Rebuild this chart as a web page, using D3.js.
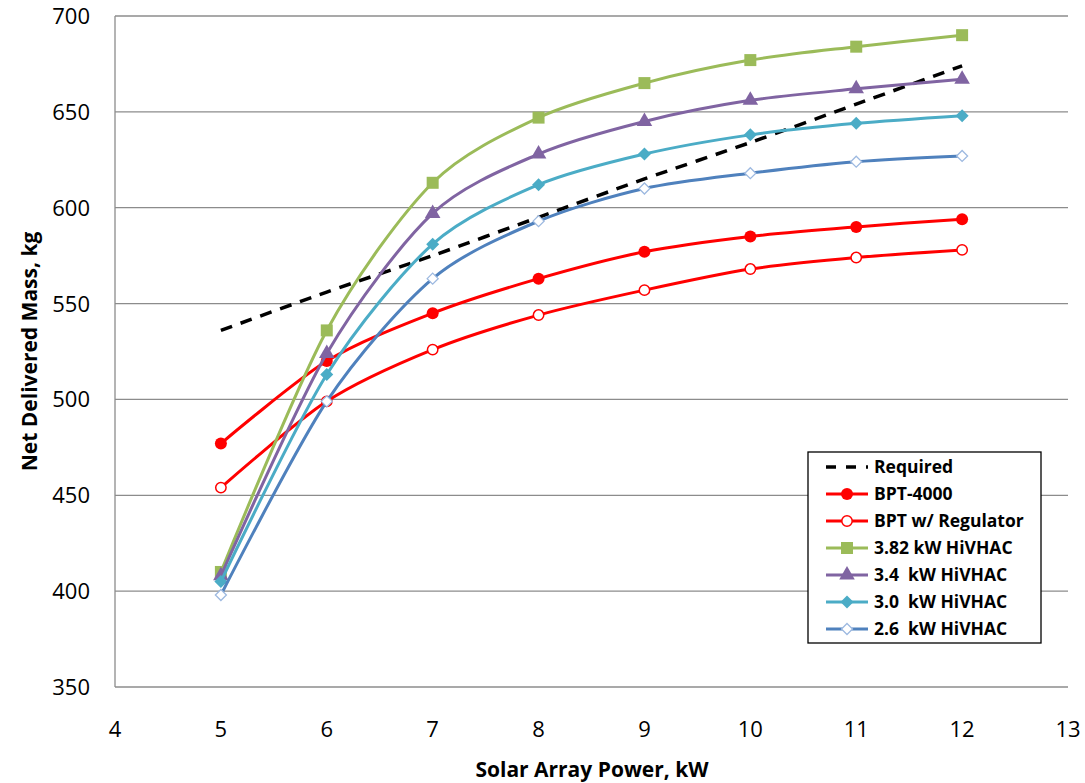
<!DOCTYPE html>
<html>
<head>
<meta charset="utf-8">
<script src="https://cdn.jsdelivr.net/npm/d3@7"></script>
<style>
  body { margin: 0; background: #fff; }
  text { font-family: 'Open Sans', Lato, sans-serif; }
</style>
</head>
<body>
<div id="chart"></div>
<script>
// data
let powers = [5, 6, 7, 8, 9, 10, 11, 12]
let required = [536, 556, 575, 595, 615, 634, 654, 674]
let bpt4000 = [477, 520, 545, 563, 577, 585, 590, 594]
let bptReg = [454, 499, 526, 544, 557, 568, 574, 578]
let hiv382 = [410, 536, 613, 647, 665, 677, 684, 690]
let hiv34 = [408, 524, 597, 628, 645, 656, 662, 667]
let hiv30 = [405, 513, 581, 612, 628, 638, 644, 648]
let hiv26 = [398, 499, 563, 593, 610, 618, 624, 627]
let xTicks = [4, 5, 6, 7, 8, 9, 10, 11, 12, 13]
let yTicks = [350, 400, 450, 500, 550, 600, 650, 700]

let series = [
  { name: 'Required', values: required, color: '#000', marker: 'none', dash: '12,9' },
  { name: 'BPT-4000', values: bpt4000, color: '#FF0000', marker: 'circle' },
  { name: 'BPT w/ Regulator', values: bptReg, color: '#FF0000', marker: 'circleOpen' },
  { name: '3.82 kW HiVHAC', values: hiv382, color: '#9BBB59', marker: 'square' },
  { name: '3.4  kW HiVHAC', values: hiv34, color: '#8064A2', marker: 'triangle' },
  { name: '3.0  kW HiVHAC', values: hiv30, color: '#4BACC6', marker: 'diamond' },
  { name: '2.6  kW HiVHAC', values: hiv26, color: '#4F81BD', marker: 'diamondOpen' }
]

let width = 1085
let height = 783
let plotLeft = 115, plotRight = 1068, plotTop = 16, plotBottom = 687

let svg = d3.select('#chart').append('svg')
  .attr('width', width)
  .attr('height', height)

let x = d3.scaleLinear().domain([4, 13]).range([plotLeft, plotRight])
let y = d3.scaleLinear().domain([350, 700]).range([plotBottom, plotTop])

// gridlines
svg.append('g')
  .selectAll('line')
  .data(yTicks)
  .enter()
  .append('line')
  .attr('x1', plotLeft)
  .attr('x2', plotRight)
  .attr('y1', d => y(d))
  .attr('y2', d => y(d))
  .attr('stroke', '#8c8c8c')
  .attr('stroke-width', 1.3)

// axis line
svg.append('line')
  .attr('x1', plotLeft).attr('x2', plotLeft)
  .attr('y1', plotTop).attr('y2', plotBottom)
  .attr('stroke', '#8c8c8c').attr('stroke-width', 1.3)

// tick labels
svg.append('g')
  .selectAll('text')
  .data(yTicks)
  .enter()
  .append('text')
  .attr('x', 90)
  .attr('y', d => y(d) + 8)
  .attr('text-anchor', 'end')
  .attr('font-size', 22)
  .attr('fill', '#000')
  .text(d => d)

svg.append('g')
  .selectAll('text')
  .data(xTicks)
  .enter()
  .append('text')
  .attr('x', d => x(d))
  .attr('y', 737)
  .attr('text-anchor', 'middle')
  .attr('font-size', 22)
  .attr('fill', '#000')
  .text(d => d)

// axis titles
svg.append('text')
  .attr('x', 592)
  .attr('y', 777)
  .attr('text-anchor', 'middle')
  .attr('font-size', 21)
  .attr('font-weight', 'bold')
  .text('Solar Array Power, kW')

svg.append('text')
  .attr('transform', 'translate(37,' + (plotTop + plotBottom) / 2 + ') rotate(-90)')
  .attr('text-anchor', 'middle')
  .attr('font-size', 21)
  .attr('font-weight', 'bold')
  .text('Net Delivered Mass, kg')

// lines
let line = d3.line()
  .x((d, i) => x(powers[i]))
  .y(d => y(d))
  .curve(d3.curveCardinal.tension(0.15))

function drawMarker (g, type, color, size) {
  let s = size || 1
  if (type === 'circle') {
    g.append('circle').attr('r', 6 * s).attr('fill', color)
  } else if (type === 'circleOpen') {
    g.append('circle').attr('r', 5.2 * s).attr('fill', '#fff')
      .attr('stroke', color).attr('stroke-width', 1.5)
  } else if (type === 'square') {
    g.append('rect').attr('x', -6 * s).attr('y', -6 * s)
      .attr('width', 12 * s).attr('height', 12 * s).attr('fill', color)
  } else if (type === 'triangle') {
    g.append('path').attr('d', d3.symbol().type(d3.symbolTriangle).size(105 * s * s)())
      .attr('fill', color)
  } else if (type === 'diamond') {
    g.append('path').attr('d', 'M0,' + (-6.5 * s) + 'L' + (6.5 * s) + ',0L0,' + (6.5 * s) + 'L' + (-6.5 * s) + ',0Z')
      .attr('fill', color)
  } else if (type === 'diamondOpen') {
    g.append('path').attr('d', 'M0,' + (-5.5 * s) + 'L' + (5.5 * s) + ',0L0,' + (5.5 * s) + 'L' + (-5.5 * s) + ',0Z')
      .attr('fill', '#fff').attr('stroke', '#9DB9E0').attr('stroke-width', 1.3)
  }
}

series.forEach(function (s) {
  let g = svg.append('g')
  g.append('path')
    .attr('d', line(s.values))
    .attr('fill', 'none')
    .attr('stroke', s.color)
    .attr('stroke-width', s.dash ? 3.5 : 3)
    .attr('stroke-dasharray', s.dash || null)
  if (s.marker !== 'none') {
    s.values.forEach(function (v, i) {
      let m = g.append('g').attr('transform', 'translate(' + x(powers[i]) + ',' + y(v) + ')')
      drawMarker(m, s.marker, s.color)
    })
  }
})

// legend
let legend = svg.append('g').attr('transform', 'translate(808,452)')
legend.append('rect')
  .attr('width', 233)
  .attr('height', 191)
  .attr('fill', '#fff')
  .attr('stroke', '#000')
  .attr('stroke-width', 1.3)

series.forEach(function (s, i) {
  let ly = 15 + i * 27
  let row = legend.append('g').attr('transform', 'translate(0,' + ly + ')')
  row.append('line')
    .attr('x1', 18).attr('x2', 60)
    .attr('stroke', s.color)
    .attr('stroke-width', s.dash ? 3.5 : 3)
    .attr('stroke-dasharray', s.dash ? '10,10' : null)
  if (s.marker !== 'none') {
    drawMarker(row.append('g').attr('transform', 'translate(39,0)'), s.marker, s.color)
  }
  row.append('text')
    .attr('x', 66)
    .attr('y', 6)
    .attr('font-size', 17.5)
    .attr('font-weight', 'bold')
    .style('white-space', 'pre')
    .text(s.name)
})
</script>
</body>
</html>
